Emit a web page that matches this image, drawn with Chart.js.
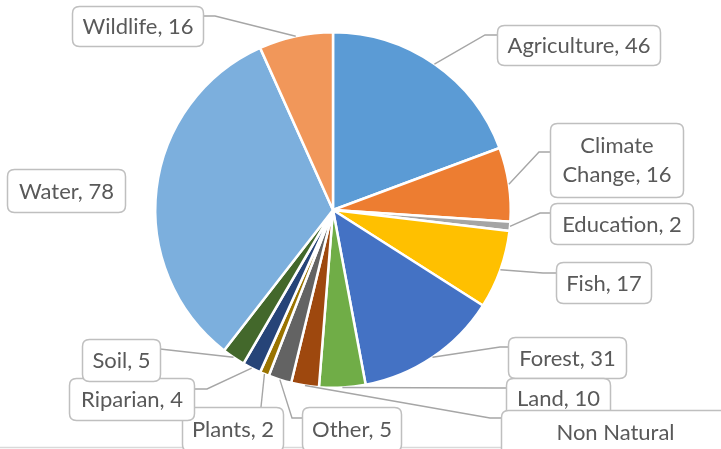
<!DOCTYPE html>
<html><head><meta charset="utf-8">
<script src="https://cdn.jsdelivr.net/npm/chart.js@4.4.1/dist/chart.umd.min.js"></script>
<style>html,body{margin:0;padding:0;background:#fff;overflow:hidden}</style>
</head><body><canvas id="c" width="721" height="449"></canvas>
<script>
const categories = ['Agriculture','Climate Change','Education','Fish','Forest','Land','Non Natural','Other','Plants','Riparian','Soil','Water','Wildlife'];
const counts = [46,16,2,17,31,10,6,5,2,4,5,78,16];
const sliceColors = ['#5B9BD5','#ED7D31','#A5A5A5','#FFC000','#4472C4','#70AD47','#9E480E','#636363','#997300','#264478','#43682B','#7CAFDD','#F1975A'];

// callout layout (positions only): box [x,y,w,h], elbow point, join point on the box
const calloutLayout = [
 {box:[497,25,163,40], elbow:[485,35], join:[497,35]},
 {box:[550,123,133,74], elbow:[539,152], join:[550,152], wrap:'first'},
 {box:[550,203,143,41], elbow:[540,213], join:[550,213]},
 {box:[556,262,95,41], elbow:[543,273], join:[556,273]},
 {box:[508,337,118,41], elbow:[500,347], join:[508,347]},
 {box:[506,378,104,40], elbow:[495,388], join:[506,388]},
 {box:[501,410,240,60], elbow:[490,418], join:[501,418], wrap:'value'},
 {box:[302,407,99,44], elbow:[292,418], join:[302,418]},
 {box:[182,407,101,44], elbow:null, join:[261,407]},
 {box:[69,378,125,42], elbow:[207,389], join:[194,389]},
 {box:[82,339,78,42], elbow:null, join:[160,349]},
 {box:[7,169,118,43], elbow:null, join:null},
 {box:[72,6,131,40], elbow:[215,16], join:[203,16]}
];

const FONT_FAMILY = 'Lato, "Open Sans", sans-serif';
let fontSize = 20;
(function fit(){
  const cx = document.createElement('canvas').getContext('2d');
  cx.font = '20px ' + FONT_FAMILY;
  const w = cx.measureText('Agriculture, 46').width;
  fontSize = 20 * 143 / w;
})();

function roundRect(ctx, x, y, w, h, r){
  ctx.beginPath();
  ctx.moveTo(x+r, y);
  ctx.lineTo(x+w-r, y); ctx.quadraticCurveTo(x+w, y, x+w, y+r);
  ctx.lineTo(x+w, y+h-r); ctx.quadraticCurveTo(x+w, y+h, x+w-r, y+h);
  ctx.lineTo(x+r, y+h); ctx.quadraticCurveTo(x, y+h, x, y+h-r);
  ctx.lineTo(x, y+r); ctx.quadraticCurveTo(x, y, x+r, y);
  ctx.closePath();
}

const calloutPlugin = {
  id: 'callouts',
  afterDatasetsDraw(chart){
    const ctx = chart.ctx;
    const meta = chart.getDatasetMeta(0);
    ctx.save();
    // chart frame bottom edge
    ctx.strokeStyle = '#D9D9D9'; ctx.lineWidth = 1.3;
    ctx.beginPath(); ctx.moveTo(0, 447.5); ctx.lineTo(721, 447.5); ctx.stroke();
    // leader lines
    ctx.strokeStyle = '#A6A6A6'; ctx.lineWidth = 1.4;
    meta.data.forEach((arc, i) => {
      const L = calloutLayout[i];
      if (!L || !L.join) return;
      const p = arc.getProps(['x','y','startAngle','endAngle','outerRadius'], true);
      const mid = (p.startAngle + p.endAngle) / 2;
      const sx = p.x + Math.cos(mid) * p.outerRadius;
      const sy = p.y + Math.sin(mid) * p.outerRadius;
      ctx.beginPath(); ctx.moveTo(sx, sy);
      if (L.elbow) ctx.lineTo(L.elbow[0], L.elbow[1]);
      ctx.lineTo(L.join[0], L.join[1]);
      ctx.stroke();
    });
    // boxes + text
    ctx.font = fontSize.toFixed(2) + 'px ' + FONT_FAMILY;
    ctx.textAlign = 'center'; ctx.textBaseline = 'middle';
    meta.data.forEach((arc, i) => {
      const L = calloutLayout[i];
      const [bx, by, bw, bh] = L.box;
      roundRect(ctx, bx+0.5, by+0.5, bw, bh, 7);
      ctx.fillStyle = '#FFFFFF'; ctx.fill();
      ctx.strokeStyle = '#BFBFBF'; ctx.lineWidth = 1.5; ctx.stroke();
      let lines;
      const name = categories[i], val = counts[i];
      if (L.wrap === 'first') {
        const k = name.indexOf(' ');
        lines = [name.slice(0, k), name.slice(k+1) + ', ' + val];
      } else if (L.wrap === 'value') {
        lines = [name, String(val)];
      } else {
        lines = [name + ', ' + val];
      }
      ctx.fillStyle = '#595959';
      const cx = bx + bw/2 + 0.5;
      if (lines.length === 1) {
        ctx.fillText(lines[0], cx, by + bh/2 + 1);
      } else {
        lines.forEach((t, j) => ctx.fillText(t, cx + (L.wrap==='value' ? -6 : 0), by + 23 + j*29));
      }
    });
    ctx.restore();
  }
};

new Chart(document.getElementById('c'), {
  type: 'pie',
  data: {
    labels: categories,
    datasets: [{
      data: counts,
      backgroundColor: sliceColors,
      borderColor: '#FFFFFF',
      borderWidth: 2.5
    }]
  },
  options: {
    responsive: false,
    animation: false,
    devicePixelRatio: 1,
    events: [],
    layout: { padding: { left: 154, right: 209, top: 30, bottom: 59 } },
    plugins: { legend: { display: false }, tooltip: { enabled: false } }
  },
  plugins: [calloutPlugin]
});
</script>
</body></html>
